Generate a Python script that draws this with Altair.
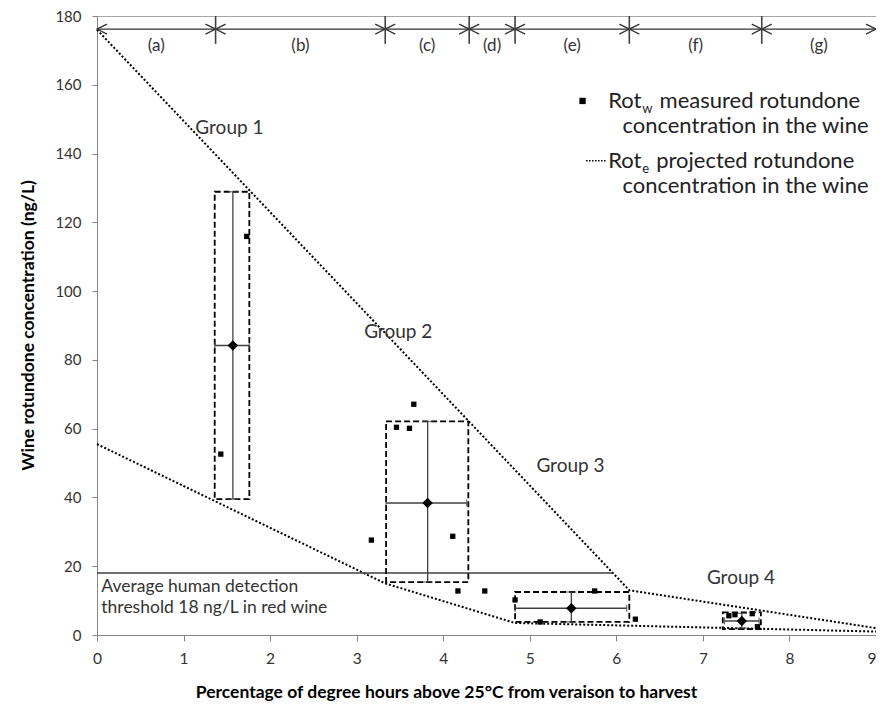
import altair as alt
import pandas as pd

# ---------------- data ----------------
group_names = ["Group 1", "Group 2", "Group 3", "Group 4"]
box_x_lo = [1.36, 3.34, 4.83, 7.23]
box_x_hi = [1.76, 4.29, 6.15, 7.67]
box_y_lo = [39.5, 15.4, 3.8, 1.7]
box_y_hi = [128.9, 62.1, 12.5, 6.6]
mean_x = [1.57, 3.82, 5.48, 7.45]
mean_y = [84.2, 38.4, 7.8, 4.1]
err_x_lo = [1.36, 3.34, 4.83, 7.25]
err_x_hi = [1.76, 4.27, 6.12, 7.65]
err_y_lo = [39.5, 15.4, 3.8, 2.0]
err_y_hi = [128.9, 62.1, 12.5, 6.3]

measured_x = [1.43, 1.73, 3.17, 3.46, 3.61, 3.66, 4.11, 4.17, 4.48,
              4.83, 5.12, 5.75, 6.22, 7.30, 7.37, 7.57, 7.63]
measured_y = [52.6, 115.9, 27.6, 60.4, 60.1, 67.1, 28.7, 12.8, 12.8,
              10.2, 3.8, 12.8, 4.6, 5.6, 5.9, 6.2, 2.4]

proj_upper_x = [0.0, 6.15, 9.0]
proj_upper_y = [176.0, 13.0, 2.0]
proj_lower_x = [0.0, 3.33, 4.83, 9.0]
proj_lower_y = [55.5, 15.0, 3.5, 1.0]

threshold_value = 18
threshold_x_end = 5.95

section_bounds = [0.0, 1.37, 3.33, 4.30, 4.83, 6.15, 7.68, 9.0]
section_labels = ["(a)", "(b)", "(c)", "(d)", "(e)", "(f)", "(g)"]

x_ticks = list(range(0, 10))
y_ticks = list(range(0, 181, 20))

# annotation anchors (data units)
group_label_x = [1.53, 3.48, 5.47, 7.44]
group_label_y = [147.5, 88.0, 49.1, 16.6]
threshold_text = ["Average human detection", "threshold 18 ng/L in red wine"]
threshold_text_y = [13.9, 7.8]
arrow_y = 176.2
divider_bottom = 171.9
section_label_y = 171.2

FONT = "Lato"
TXT = "#333333"
AX = "#868686"

X_TITLE = "Percentage of degree hours above 25°C from veraison to harvest"
Y_TITLE = "Wine rotundone concentration (ng/L)"

XS = alt.Scale(domain=[0, 9], nice=False, zero=False)
YS = alt.Scale(domain=[0, 180], nice=False, zero=False)

X_AXIS = alt.Axis(values=x_ticks, format="d", grid=False, tickSize=6, tickColor=AX,
                  domainColor=AX, labelPadding=10, labelFont=FONT, labelFontSize=15.5,
                  labelColor=TXT, labelFlush=False, labelOverlap=False,
                  labelAlign={"expr": "datum.value == 9 ? 'right' : 'center'"},
                  titleFont=FONT, titleFontSize=17.5, titleFontWeight="bold",
                  titleColor="#000000", titleX=349, titleY=57, titleAlign="center",
                  titleBaseline="middle")
Y_AXIS = alt.Axis(values=y_ticks, format="d", grid=False, tickSize=5, tickColor=AX,
                  domainColor=AX, labelPadding=11, labelFont=FONT, labelFontSize=15,
                  labelColor=TXT, labelFlush=False, labelOverlap=False,
                  titleFont=FONT, titleFontSize=17.5, titleFontWeight="bold",
                  titleColor="#000000", titleX=-69, titleY=309, titleAngle=270,
                  titleAlign="center", titleBaseline="middle")


def ex(f="x"):
    return alt.X(f"{f}:Q", scale=XS, axis=X_AXIS, title=X_TITLE)


def ey(f="y"):
    return alt.Y(f"{f}:Q", scale=YS, axis=Y_AXIS, title=Y_TITLE)


# ---------------- tables ----------------
groups = pd.DataFrame({
    "group": group_names, "bx": box_x_lo, "bx2": box_x_hi, "by": box_y_lo, "by2": box_y_hi,
    "mx": mean_x, "my": mean_y, "ex1": err_x_lo, "ex2": err_x_hi, "ey1": err_y_lo, "ey2": err_y_hi,
})
points = pd.DataFrame({"x": measured_x, "y": measured_y})
proj = pd.DataFrame({
    "series": ["upper"] * len(proj_upper_x) + ["lower"] * len(proj_lower_x),
    "x": proj_upper_x + proj_lower_x,
    "y": proj_upper_y + proj_lower_y,
})
starts = section_bounds[:-1]
ends = section_bounds[1:]
sections = pd.DataFrame({
    "x": starts, "x2": ends, "label": section_labels,
    "mid": [(a + b) / 2 for a, b in zip(starts, ends)],
    "y": [arrow_y] * len(starts), "ly": [section_label_y] * len(starts),
})
dividers = pd.DataFrame({"x": section_bounds[1:-1], "y": [180] * (len(section_bounds) - 2),
                         "y2": [divider_bottom] * (len(section_bounds) - 2)})
glabels = pd.DataFrame({"x": group_label_x, "y": group_label_y, "label": group_names})
thr = pd.DataFrame({"x": [0.0], "x2": [threshold_x_end], "y": [threshold_value]})
thr_txt = pd.DataFrame({"x": [0.05, 0.05], "y": threshold_text_y, "label": threshold_text})

# ---------------- layers ----------------
proj_lines = alt.Chart(proj).mark_line(color="black", strokeWidth=2, strokeDash=[2, 2]).encode(
    x=ex(), y=ey(), detail="series:N")

thr_rule = alt.Chart(thr).mark_rule(color="#404040", strokeWidth=1.5).encode(
    x=ex(), x2="x2", y=ey())
thr_text = alt.Chart(thr_txt).mark_text(align="left", baseline="middle", font=FONT,
                                        fontSize=17.5, color=TXT).encode(
    x=ex(), y=ey(), text="label:N")

boxes = alt.Chart(groups).mark_rect(fill=None, filled=False, stroke="black", strokeWidth=1.8,
                                    strokeDash=[6, 3]).encode(
    x=ex("bx"), x2="bx2", y=ey("by"), y2="by2")
vbar = alt.Chart(groups).mark_rule(color="#404040", strokeWidth=1.3).encode(
    x=ex("mx"), y=ey("ey1"), y2="ey2")
hbar = alt.Chart(groups).mark_rule(color="#404040", strokeWidth=1.5).encode(
    x=ex("ex1"), x2="ex2", y=ey("my"))
vcap_lo = alt.Chart(groups).mark_tick(orient="horizontal", size=10, thickness=1.3,
                                      color="#404040").encode(x=ex("mx"), y=ey("ey1"))
vcap_hi = alt.Chart(groups).mark_tick(orient="horizontal", size=10, thickness=1.3,
                                      color="#404040").encode(x=ex("mx"), y=ey("ey2"))
hcap_lo = alt.Chart(groups).mark_tick(orient="vertical", size=7, thickness=1.3,
                                      color="#404040").encode(x=ex("ex1"), y=ey("my"))
hcap_hi = alt.Chart(groups).mark_tick(orient="vertical", size=7, thickness=1.3,
                                      color="#404040").encode(x=ex("ex2"), y=ey("my"))
diamonds = alt.Chart(groups).mark_point(shape="diamond", filled=True, color="black",
                                        size=110, opacity=1).encode(x=ex("mx"), y=ey("my"))
squares = alt.Chart(points).mark_square(color="black", size=28, opacity=1).encode(
    x=ex(), y=ey())
group_text = alt.Chart(glabels).mark_text(align="center", baseline="middle", font=FONT,
                                          fontSize=19, color=TXT).encode(
    x=ex(), y=ey(), text="label:N")

arrow_rules = alt.Chart(sections).mark_rule(color="#333333", strokeWidth=1.3).encode(
    x=ex(), x2="x2", y=ey())
arrow_right = alt.Chart(sections).mark_point(shape="M-2,-1L0,0L-2,1", filled=False,
                                             color="#333333", size=100, strokeWidth=1.3,
                                             opacity=1).encode(x=ex("x2"), y=ey())
arrow_left = alt.Chart(sections).mark_point(shape="M2,-1L0,0L2,1", filled=False,
                                            color="#333333", size=100, strokeWidth=1.3,
                                            opacity=1).encode(x=ex(), y=ey())
divider_rules = alt.Chart(dividers).mark_rule(color="#404040", strokeWidth=1.6).encode(
    x=ex(), y=ey(), y2="y2")
section_text = alt.Chart(sections).mark_text(align="center", baseline="middle", font=FONT,
                                             fontSize=17, color=TXT).encode(
    x=ex("mid"), y=ey("ly"), text="label:N")

# ---------------- manual legend ----------------
leg_y1, leg_y2, leg_y3, leg_y4 = 155.3, 148.1, 137.9, 130.7
leg_sq = pd.DataFrame({"x": [5.61], "y": [leg_y1]})
leg_dot = pd.DataFrame({"x": [5.65, 5.89], "y": [leg_y3, leg_y3]})
leg_rot = pd.DataFrame({"x": [6.29, 6.29], "y": [leg_y1, leg_y3], "label": ["Rot", "Rot"]})
leg_sub = pd.DataFrame({"x": [6.30, 6.30], "y": [leg_y1, leg_y3], "label": ["w", "e"]})
leg_rest = pd.DataFrame({"x": [6.50, 6.46], "y": [leg_y1, leg_y3],
                         "label": ["measured rotundone", "projected rotundone"]})
leg_conc = pd.DataFrame({"x": [6.07, 6.07], "y": [leg_y2, leg_y4],
                         "label": ["concentration in the wine", "concentration in the wine"]})

LEG_FS = 22
legend_layers = [
    alt.Chart(leg_sq).mark_square(color="black", size=40, opacity=1).encode(x=ex(), y=ey()),
    alt.Chart(leg_dot).mark_line(color="black", strokeWidth=1.5, strokeDash=[1.5, 1.5]).encode(
        x=ex(), y=ey()),
    alt.Chart(leg_rot).mark_text(align="right", baseline="middle", font=FONT, fontSize=LEG_FS,
                                 color="#222222").encode(x=ex(), y=ey(), text="label:N"),
    alt.Chart(leg_sub).mark_text(align="left", baseline="top", font=FONT, fontSize=13,
                                 dy=2, color="#222222").encode(x=ex(), y=ey(), text="label:N"),
    alt.Chart(leg_rest).mark_text(align="left", baseline="middle", font=FONT, fontSize=LEG_FS,
                                  color="#222222").encode(x=ex(), y=ey(), text="label:N"),
    alt.Chart(leg_conc).mark_text(align="left", baseline="middle", font=FONT, fontSize=LEG_FS,
                                  color="#222222").encode(x=ex(), y=ey(), text="label:N"),
]

chart = alt.layer(
    proj_lines, thr_rule, thr_text, boxes, vbar, hbar, vcap_lo, vcap_hi, hcap_lo, hcap_hi,
    squares, diamonds, group_text, arrow_rules, arrow_right, arrow_left, divider_rules,
    section_text, *legend_layers,
).properties(
    width=779, height=619,
    autosize=alt.AutoSizeParams(type="none"),
    padding={"left": 89, "top": 8, "right": 0, "bottom": 66},
    background="white",
).configure_view(stroke="#a6a6a6", strokeWidth=1)

chart.save("out.html", embed_options={"renderer": "svg", "actions": False})
